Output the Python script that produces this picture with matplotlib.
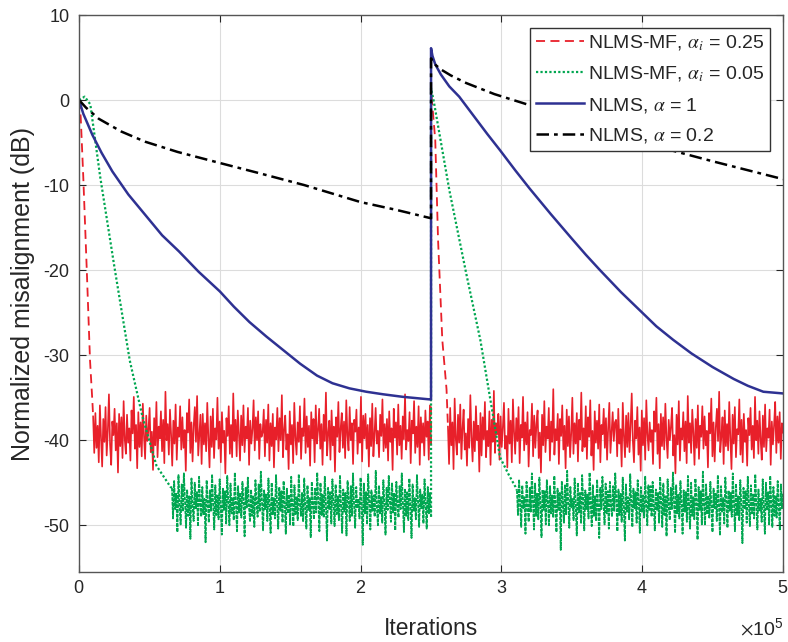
import numpy as np
import matplotlib.pyplot as plt
from matplotlib.ticker import ScalarFormatter

plt.rcParams['font.family'] = ['Liberation Sans', 'DejaVu Sans']
plt.rcParams['mathtext.fontset'] = 'stix'
plt.rcParams['axes.unicode_minus'] = False

# ---------------- data ----------------
# NLMS-MF, alpha_i = 0.25 (red, dashed)
red_t1_x = [0, 1.2e3, 3.0e3, 5.5e3, 7.8e3, 9.5e3]
red_t1_y = [0, -2.0, -9.0, -20.0, -30.6, -35.5]
red_n1_span = (1.0e4, 2.5e5)
red_n1_y = [
    -37.2, -41.5, -36.8, -40.9, -38.3, -42.6, -35.9, -39.7, -43.1, -37.5,
    -40.2, -36.1, -41.8, -38.9, -34.6, -40.5, -42.9, -37.8, -39.4, -36.3,
    -41.2, -38.0, -43.8, -36.9, -40.7, -37.3, -42.1, -35.4, -39.9, -41.6,
    -37.0, -40.3, -38.6, -42.4, -36.5, -39.2, -34.9, -41.0, -38.2, -43.3,
    -36.7, -40.8, -37.9, -41.9, -35.7, -39.5, -42.2, -37.1, -40.1, -38.7,
    -36.2, -41.4, -39.0, -43.5, -37.4, -40.6, -35.5, -42.0, -38.4, -39.8,
    -36.6, -41.3, -37.6, -42.7, -34.3, -40.0, -38.1, -41.7, -36.4, -39.3,
    -43.0, -37.7, -40.4, -35.8, -42.3, -38.5, -39.6, -36.0, -41.1, -37.3,
    -40.9, -38.8, -43.6, -36.8, -39.1, -35.2, -41.5, -37.9, -42.5, -38.3,
    -36.1, -40.2, -34.8, -41.8, -39.4, -37.0, -42.8, -36.9, -40.5, -38.0,
    -41.3, -35.6, -39.7, -43.2, -37.2, -40.8, -36.3, -42.1, -38.6, -39.9,
    -35.0, -41.0, -37.8, -42.6, -36.7, -40.3, -38.9, -43.9, -37.4, -39.5,
    -36.0, -41.6, -38.2, -42.0, -34.5, -40.1, -37.6, -41.9, -36.5, -39.2,
    -42.4, -37.1, -40.6, -35.9, -41.4, -38.4, -39.8, -36.2, -42.9, -37.7,
    -40.4, -38.7, -35.3, -41.2, -37.3, -40.0, -36.6, -42.2, -38.1, -39.6,
    -39.1, -36.4, -41.9, -37.6, -40.3, -35.8, -42.4, -38.0, -40.7, -36.9,
    -43.2, -38.5, -39.9, -36.2, -41.3, -37.4, -40.0, -34.7, -42.0, -38.8,
    -37.1, -41.1, -39.3, -43.4, -36.6, -40.5, -38.2, -42.7, -35.6, -39.7,
    -41.7, -37.9, -40.2, -36.0, -42.2, -38.6, -39.5, -35.1, -41.5, -37.2,
    -40.8, -38.3, -43.0, -36.7, -39.8, -37.5, -42.6, -35.9, -40.4, -38.9,
    -36.3, -41.0, -38.1, -42.9, -37.0, -40.1, -34.4, -41.8, -39.2, -37.7,
    -42.3, -36.5, -40.6, -38.4, -43.7, -37.3, -39.6, -35.5, -41.4, -38.7,
    -36.8, -40.9, -37.8, -42.1, -35.3, -39.4, -41.2, -36.1, -40.0, -38.0,
    -42.8, -37.6, -39.0, -36.4, -41.6, -38.5, -40.3, -34.9, -42.5, -37.1,
    -39.8, -36.9, -41.0, -38.2, -43.1, -37.4, -40.7, -35.7, -41.9, -39.3,
    -36.2, -40.4, -38.9, -42.0, -37.0, -39.5, -35.2, -41.3, -38.1, -40.9,
    -37.5, -42.4, -36.6, -40.2, -38.6, -43.5, -36.3, -39.7, -37.9, -41.7,
    -35.8, -40.6, -38.3, -42.2, -37.2, -39.9, -34.6, -41.1, -38.8, -40.1,
    -36.7, -42.7, -37.7, -39.2, -35.4, -41.5, -38.4, -40.8, -36.0, -42.9,
    -37.3, -40.3, -38.0, -41.8, -36.5, -39.6, -37.8, -42.3, -35.9, -40.5]
red_t2_x = [2.5e5, 2.53e5, 2.55e5, 2.58e5, 2.61e5]
red_t2_y = [1.2, -4.7, -16.5, -28.2, -34.0]
red_n2_span = (2.62e5, 5.0e5)
red_n2_y = [
    -38.4, -42.8, -36.2, -40.6, -37.9, -43.4, -35.1, -39.8, -41.7, -37.0,
    -40.3, -35.8, -42.2, -38.6, -36.4, -41.1, -39.2, -43.0, -37.5, -40.9,
    -34.7, -39.6, -42.5, -37.8, -41.3, -36.0, -40.0, -38.3, -43.7, -36.8,
    -41.8, -37.3, -39.9, -35.5, -42.0, -38.9, -40.7, -36.6, -42.9, -37.6,
    -40.2, -34.2, -41.5, -38.0, -39.3, -36.9, -42.3, -37.2, -40.8, -38.5,
    -35.6, -41.0, -39.5, -43.2, -36.3, -40.4, -37.7, -42.6, -35.2, -39.0,
    -41.6, -37.4, -40.1, -36.1, -42.7, -38.2, -39.7, -34.9, -41.2, -37.9,
    -40.5, -36.7, -43.1, -38.8, -39.4, -35.7, -41.9, -37.1, -40.9, -38.1,
    -36.5, -42.1, -39.1, -43.8, -37.0, -40.6, -35.4, -41.4, -38.4, -39.8,
    -36.2, -42.4, -37.8, -40.2, -34.0, -41.7, -38.7, -40.0, -36.9, -42.8,
    -37.5, -39.5, -35.9, -41.1, -38.3, -43.3, -36.4, -40.7, -37.2, -42.0,
    -39.2, -35.0, -41.6, -38.0, -40.4, -36.8, -42.5, -37.6, -39.9, -34.4,
    -41.3, -38.6, -40.8, -36.0, -42.2, -37.3, -39.6, -35.3, -41.8, -38.9,
    -43.5, -36.6, -40.3, -37.7, -41.0, -35.8, -42.6, -38.2, -39.3, -36.3,
    -40.9, -37.4, -42.3, -38.5, -35.6, -41.5, -39.0, -36.7, -40.1, -37.9,
    -37.6, -41.9, -36.3, -40.4, -38.7, -43.1, -35.6, -39.5, -42.0, -37.1,
    -40.8, -36.8, -41.4, -38.2, -34.5, -40.1, -42.6, -37.7, -39.8, -36.1,
    -41.7, -38.5, -43.6, -36.5, -40.6, -37.4, -42.3, -35.3, -39.3, -41.2,
    -37.9, -40.2, -38.8, -42.8, -36.6, -39.0, -35.0, -41.6, -38.1, -43.3,
    -36.9, -40.7, -37.3, -41.1, -35.7, -39.7, -42.1, -37.6, -40.0, -38.4,
    -36.2, -41.8, -39.4, -43.9, -37.0, -40.5, -35.4, -42.4, -38.6, -39.9,
    -36.7, -41.3, -37.8, -42.7, -34.8, -40.3, -38.0, -41.5, -36.4, -39.1,
    -42.9, -37.5, -40.9, -35.9, -42.2, -38.3, -39.6, -36.0, -41.0, -37.2,
    -40.6, -38.9, -43.2, -36.8, -39.2, -35.1, -41.9, -37.9, -42.5, -38.5,
    -36.3, -40.1, -34.3, -41.4, -39.5, -37.3, -42.8, -36.5, -40.7, -38.1,
    -41.2, -35.5, -39.8, -43.4, -37.0, -40.4, -36.1, -42.0, -38.7, -39.3,
    -35.2, -41.7, -37.6, -42.6, -36.9, -40.2, -38.8, -43.0, -37.4, -39.4,
    -36.2, -41.1, -38.3, -42.1, -34.9, -40.0, -37.7, -41.6, -36.6, -39.9,
    -42.3, -37.1, -40.8, -35.8, -41.3, -38.6, -39.7, -36.4, -42.9, -37.8,
    -40.5, -38.2, -35.5, -41.5, -37.2, -40.3, -36.7, -42.2, -38.0, -39.1]

# NLMS-MF, alpha_i = 0.05 (green, dotted)
grn_t1_x = [0, 4e3, 8e3, 1.5e4, 2.5e4, 3.6e4, 4.5e4, 5.5e4, 6.5e4]
grn_t1_y = [0, 0.4, -0.5, -9.0, -19.5, -30.6, -37.2, -43.0, -45.5]
grn_n1_span = (6.6e4, 2.5e5)
grn_n1_y = [
    -45.6, -49.2, -44.8, -48.1, -46.3, -50.8, -44.1, -47.7, -49.9, -45.2,
    -48.4, -43.9, -47.0, -50.3, -45.8, -48.9, -46.6, -51.6, -44.5, -47.9,
    -49.5, -45.0, -48.0, -46.1, -50.1, -44.3, -47.4, -49.0, -45.5, -48.7,
    -46.9, -52.0, -44.7, -47.2, -49.7, -45.9, -48.3, -44.0, -47.6, -50.5,
    -45.3, -48.8, -46.4, -49.3, -44.6, -47.8, -51.1, -45.7, -48.2, -46.0,
    -49.8, -44.2, -47.3, -50.0, -45.1, -48.6, -46.7, -49.4, -43.8, -47.5,
    -50.7, -45.4, -48.5, -46.2, -49.1, -44.9, -47.1, -51.3, -45.6, -48.0,
    -44.4, -47.7, -49.6, -45.8, -48.9, -46.5, -50.2, -44.7, -47.4, -49.0,
    -45.2, -48.4, -43.7, -47.0, -50.6, -45.9, -48.1, -46.3, -49.5, -44.5,
    -47.9, -50.9, -45.0, -48.7, -46.8, -49.2, -44.1, -47.6, -50.4, -45.5,
    -48.3, -46.0, -49.7, -44.8, -47.2, -51.0, -45.7, -48.6, -46.4, -49.9,
    -44.3, -47.8, -50.1, -45.3, -48.8, -46.6, -49.4, -44.0, -47.5, -48.9,
    -46.2, -49.6, -44.5, -47.9, -50.4, -45.3, -48.2, -46.8, -51.4, -44.9,
    -47.4, -49.3, -45.7, -48.5, -43.8, -47.1, -50.7, -45.0, -48.8, -46.4,
    -49.1, -44.3, -47.7, -51.8, -45.6, -48.1, -46.0, -49.8, -44.6, -47.3,
    -50.1, -45.2, -48.7, -46.6, -49.4, -44.1, -47.8, -50.9, -45.8, -48.4,
    -46.2, -51.2, -44.8, -47.0, -49.5, -45.4, -48.9, -43.9, -47.6, -50.3,
    -45.5, -48.0, -46.9, -49.2, -44.4, -47.5, -52.3, -45.1, -48.6, -46.1,
    -49.9, -44.0, -47.2, -50.5, -45.9, -48.3, -46.5, -49.0, -43.6, -47.9,
    -50.0, -45.3, -48.7, -46.7, -49.7, -44.7, -47.4, -51.1, -45.6, -48.2,
    -44.2, -47.1, -49.6, -45.0, -48.5, -46.3, -50.6, -44.9, -47.7, -49.1,
    -45.4, -48.1, -43.9, -47.3, -50.8, -45.7, -48.9, -46.0, -49.4, -44.5,
    -47.6, -51.5, -45.2, -48.4, -46.8, -49.3, -44.1, -47.2, -50.2, -45.8,
    -48.0, -46.4, -49.8, -44.6, -47.5, -50.4, -45.5, -48.6, -46.2, -49.0]
grn_t2_x = [2.5e5, 2.52e5, 2.63e5, 2.75e5, 2.85e5, 2.99e5, 3.05e5, 3.1e5]
grn_t2_y = [1.4, -0.2, -10.6, -20.4, -28.2, -42.0, -44.0, -45.5]
grn_n2_span = (3.11e5, 5.0e5)
grn_n2_y = [
    -45.9, -48.8, -44.6, -47.5, -50.2, -45.3, -48.1, -46.7, -51.0, -44.9,
    -47.8, -49.6, -45.6, -48.4, -43.9, -47.1, -50.5, -45.1, -48.9, -46.3,
    -49.3, -44.4, -47.6, -51.4, -45.8, -48.2, -46.0, -49.9, -44.7, -47.3,
    -50.0, -45.4, -48.6, -46.5, -49.1, -44.2, -47.9, -50.8, -45.7, -48.3,
    -46.1, -52.9, -44.8, -47.2, -49.7, -45.2, -48.7, -43.6, -47.4, -50.3,
    -45.5, -48.0, -46.8, -49.4, -44.5, -47.7, -51.2, -45.0, -48.5, -46.2,
    -49.8, -44.1, -47.0, -50.6, -45.9, -48.2, -46.4, -49.2, -43.8, -47.5,
    -50.1, -45.3, -48.9, -46.6, -49.5, -44.6, -47.8, -51.5, -45.6, -48.1,
    -44.3, -47.3, -49.9, -45.1, -48.6, -46.0, -50.4, -44.9, -47.6, -49.0,
    -45.4, -48.3, -43.9, -47.1, -50.7, -45.8, -48.8, -46.3, -49.6, -44.4,
    -47.9, -51.8, -45.2, -48.4, -46.7, -49.3, -44.0, -47.4, -50.2, -45.7,
    -48.0, -46.1, -49.7, -44.7, -47.2, -50.9, -45.5, -48.5, -46.5, -49.1,
    -44.2, -47.7, -50.0, -45.3, -48.2,
    -45.4, -49.0, -44.9, -47.6, -50.6, -45.8, -48.3, -46.2, -49.7, -44.3,
    -47.2, -50.2, -45.1, -48.8, -46.6, -51.3, -44.6, -47.8, -49.4, -45.6,
    -48.1, -43.8, -47.3, -50.9, -45.3, -48.6, -46.4, -49.2, -44.8, -47.5,
    -51.0, -45.9, -48.4, -46.1, -49.6, -44.2, -47.7, -50.4, -45.0, -48.9,
    -46.7, -49.3, -44.5, -47.1, -51.7, -45.5, -48.2, -46.0, -49.9, -43.7,
    -47.4, -50.0, -45.2, -48.7, -46.5, -49.1, -44.9, -47.9, -50.8, -45.7,
    -48.0, -46.3, -49.5, -44.1, -47.6, -51.2, -45.4, -48.5, -46.8, -49.8,
    -44.4, -47.0, -50.3, -45.9, -48.3, -46.2, -49.0, -43.9, -47.3, -50.7,
    -45.1, -48.8, -46.6, -49.4, -44.7, -47.8, -52.1, -45.6, -48.1, -46.0,
    -49.7, -44.3, -47.5, -50.1, -45.3, -48.6, -46.4, -49.2, -44.0, -47.2,
    -50.5, -45.8, -48.4, -46.9, -49.6, -44.6, -47.7, -51.0, -45.0, -48.2,
    -46.1, -49.9, -44.2, -47.4, -50.2, -45.5, -48.9, -46.5, -49.1, -44.8,
    -47.6, -50.6, -45.2, -48.0, -46.3]

# NLMS, alpha = 1 (blue, solid)
blue_x = [0, 3e3, 9.5e3, 1.6e4, 2.37e4, 3.5e4, 4.7e4, 5.9e4, 7.1e4, 8.5e4,
          1.0e5, 1.1e5, 1.21e5, 1.33e5, 1.45e5, 1.57e5, 1.69e5, 1.8e5,
          1.92e5, 2.04e5, 2.16e5, 2.3e5, 2.49e5, 2.5e5,
          2.5e5, 2.51e5, 2.53e5, 2.57e5, 2.63e5, 2.7e5, 2.8e5, 2.9e5, 2.99e5,
          3.1e5, 3.2e5, 3.35e5, 3.5e5, 3.6e5, 3.7e5, 3.85e5, 4.0e5, 4.1e5,
          4.22e5, 4.35e5, 4.5e5, 4.65e5, 4.75e5, 4.86e5, 4.93e5, 5.0e5]
blue_y = [0, -1.6, -4.1, -6.2, -8.4, -11.1, -13.5, -15.9, -17.8, -20.2,
          -22.5, -24.3, -26.1, -27.8, -29.4, -31.0, -32.4, -33.3,
          -33.9, -34.3, -34.6, -34.9, -35.2, -35.2,
          6.1, 5.2, 4.2, 3.0, 1.6, 0.4, -1.8, -4.0, -5.9,
          -8.3, -10.4, -13.4, -16.3, -18.2, -20.0, -22.6, -25.0, -26.6,
          -28.2, -29.8, -31.4, -32.8, -33.6, -34.3, -34.4, -34.5]

# NLMS, alpha = 0.2 (black, dash-dot)
blk_x = [0, 5e3, 1.4e4, 3.0e4, 4.7e4, 7.0e4, 1.0e5, 1.28e5, 1.6e5, 2.0e5,
         2.25e5, 2.5e5,
         2.5e5, 2.52e5, 2.57e5, 2.64e5, 2.75e5, 2.95e5, 3.2e5, 3.6e5, 4.0e5,
         4.5e5, 5.0e5]
blk_y = [0, -0.9, -2.2, -3.7, -4.9, -6.1, -7.4, -8.6, -10.0, -12.0,
         -12.9, -13.9,
         4.9, 4.3, 3.6, 2.9, 2.0, 0.7, -0.6, -3.0, -5.0,
         -7.2, -9.3]

labels = [r'NLMS-MF, $\alpha_i$ = 0.25', r'NLMS-MF, $\alpha_i$ = 0.05',
          r'NLMS, $\alpha$ = 1', r'NLMS, $\alpha$ = 0.2']
x_ticks = [0, 1e5, 2e5, 3e5, 4e5, 5e5]
y_ticks = [-50, -40, -30, -20, -10, 0, 10]

# ---------------- build series ----------------
def seg(span, vals):
    return list(np.linspace(span[0], span[1], len(vals))), list(vals)

def build(t1x, t1y, n1span, n1y, t2x, t2y, n2span, n2y):
    n1x, n1y = seg(n1span, n1y)
    n2x, n2y = seg(n2span, n2y)
    nan = [np.nan]
    # transient parts (styled), joined to the neighbouring noise samples
    tx = t1x + [n1x[0]] + nan + [n1x[-1]] + t2x + [n2x[0]]
    ty = t1y + [n1y[0]] + nan + [n1y[-1]] + t2y + [n2y[0]]
    # noise parts (drawn densely)
    nx = n1x + nan + n2x
    ny = n1y + nan + n2y
    return tx, ty, nx, ny

rtx, rty, rnx, rny = build(red_t1_x, red_t1_y, red_n1_span, red_n1_y,
                           red_t2_x, red_t2_y, red_n2_span, red_n2_y)
gtx, gty, gnx, gny = build(grn_t1_x, grn_t1_y, grn_n1_span, grn_n1_y,
                           grn_t2_x, grn_t2_y, grn_n2_span, grn_n2_y)

RED = '#E8202A'
GREEN = '#00A650'
BLUE = '#2E3192'
TXT = '#262626'

fig = plt.figure(figsize=(7.88, 6.42), dpi=100)
ax = fig.add_axes([0.1003, 0.109, 0.8934, 0.8676])

l1, = ax.plot(rtx, rty, color=RED, lw=1.3, ls=(0, (5, 3)))
ax.plot(rnx, rny, color=RED, lw=1.2)
l2, = ax.plot(gtx, gty, color=GREEN, lw=1.6, ls=(0, (1, 1)))
ax.plot(gnx, gny, color=GREEN, lw=1.3, ls=(0, (2, 0.6)))
l3, = ax.plot(blue_x, blue_y, color=BLUE, lw=1.8)
l4, = ax.plot(blk_x, blk_y, color='black', lw=1.8, ls=(0, (5, 2, 1.5, 2)))

ax.set_xlim(0, 5e5)
ax.set_ylim(-55.5, 10)
ax.set_xticks(x_ticks)
ax.set_yticks(y_ticks)
fmt = ScalarFormatter(useMathText=True)
fmt.set_powerlimits((0, 0))
ax.xaxis.set_major_formatter(fmt)
ax.xaxis.OFFSETTEXTPAD = 14

ax.grid(True, color='#DCDCDC', lw=0.8)
ax.set_axisbelow(True)
ax.tick_params(direction='in', top=True, right=True, labelsize=13,
               colors=TXT, length=5)
ax.tick_params(axis='x', pad=6)
ax.tick_params(axis='y', pad=7)
for s in ax.spines.values():
    s.set_color('#555555')
    s.set_linewidth(1.0)
ax.xaxis.get_offset_text().set_fontsize(14)
ax.xaxis.get_offset_text().set_color(TXT)

ax.set_xlabel('Iterations', fontsize=16.5, color=TXT, labelpad=14)
ax.set_ylabel('Normalized misalignment (dB)', fontsize=18, color=TXT, labelpad=6)

leg = ax.legend([l1, l2, l3, l4], labels, loc='upper right', fontsize=14,
                handlelength=2.5, fancybox=False, framealpha=1,
                edgecolor='#333333', borderaxespad=0.65, labelspacing=0.6,
                handletextpad=0.2, borderpad=0.3)
leg.get_frame().set_linewidth(1.0)
for t in leg.get_texts():
    t.set_color(TXT)

fig.savefig('out.png', dpi=100)
